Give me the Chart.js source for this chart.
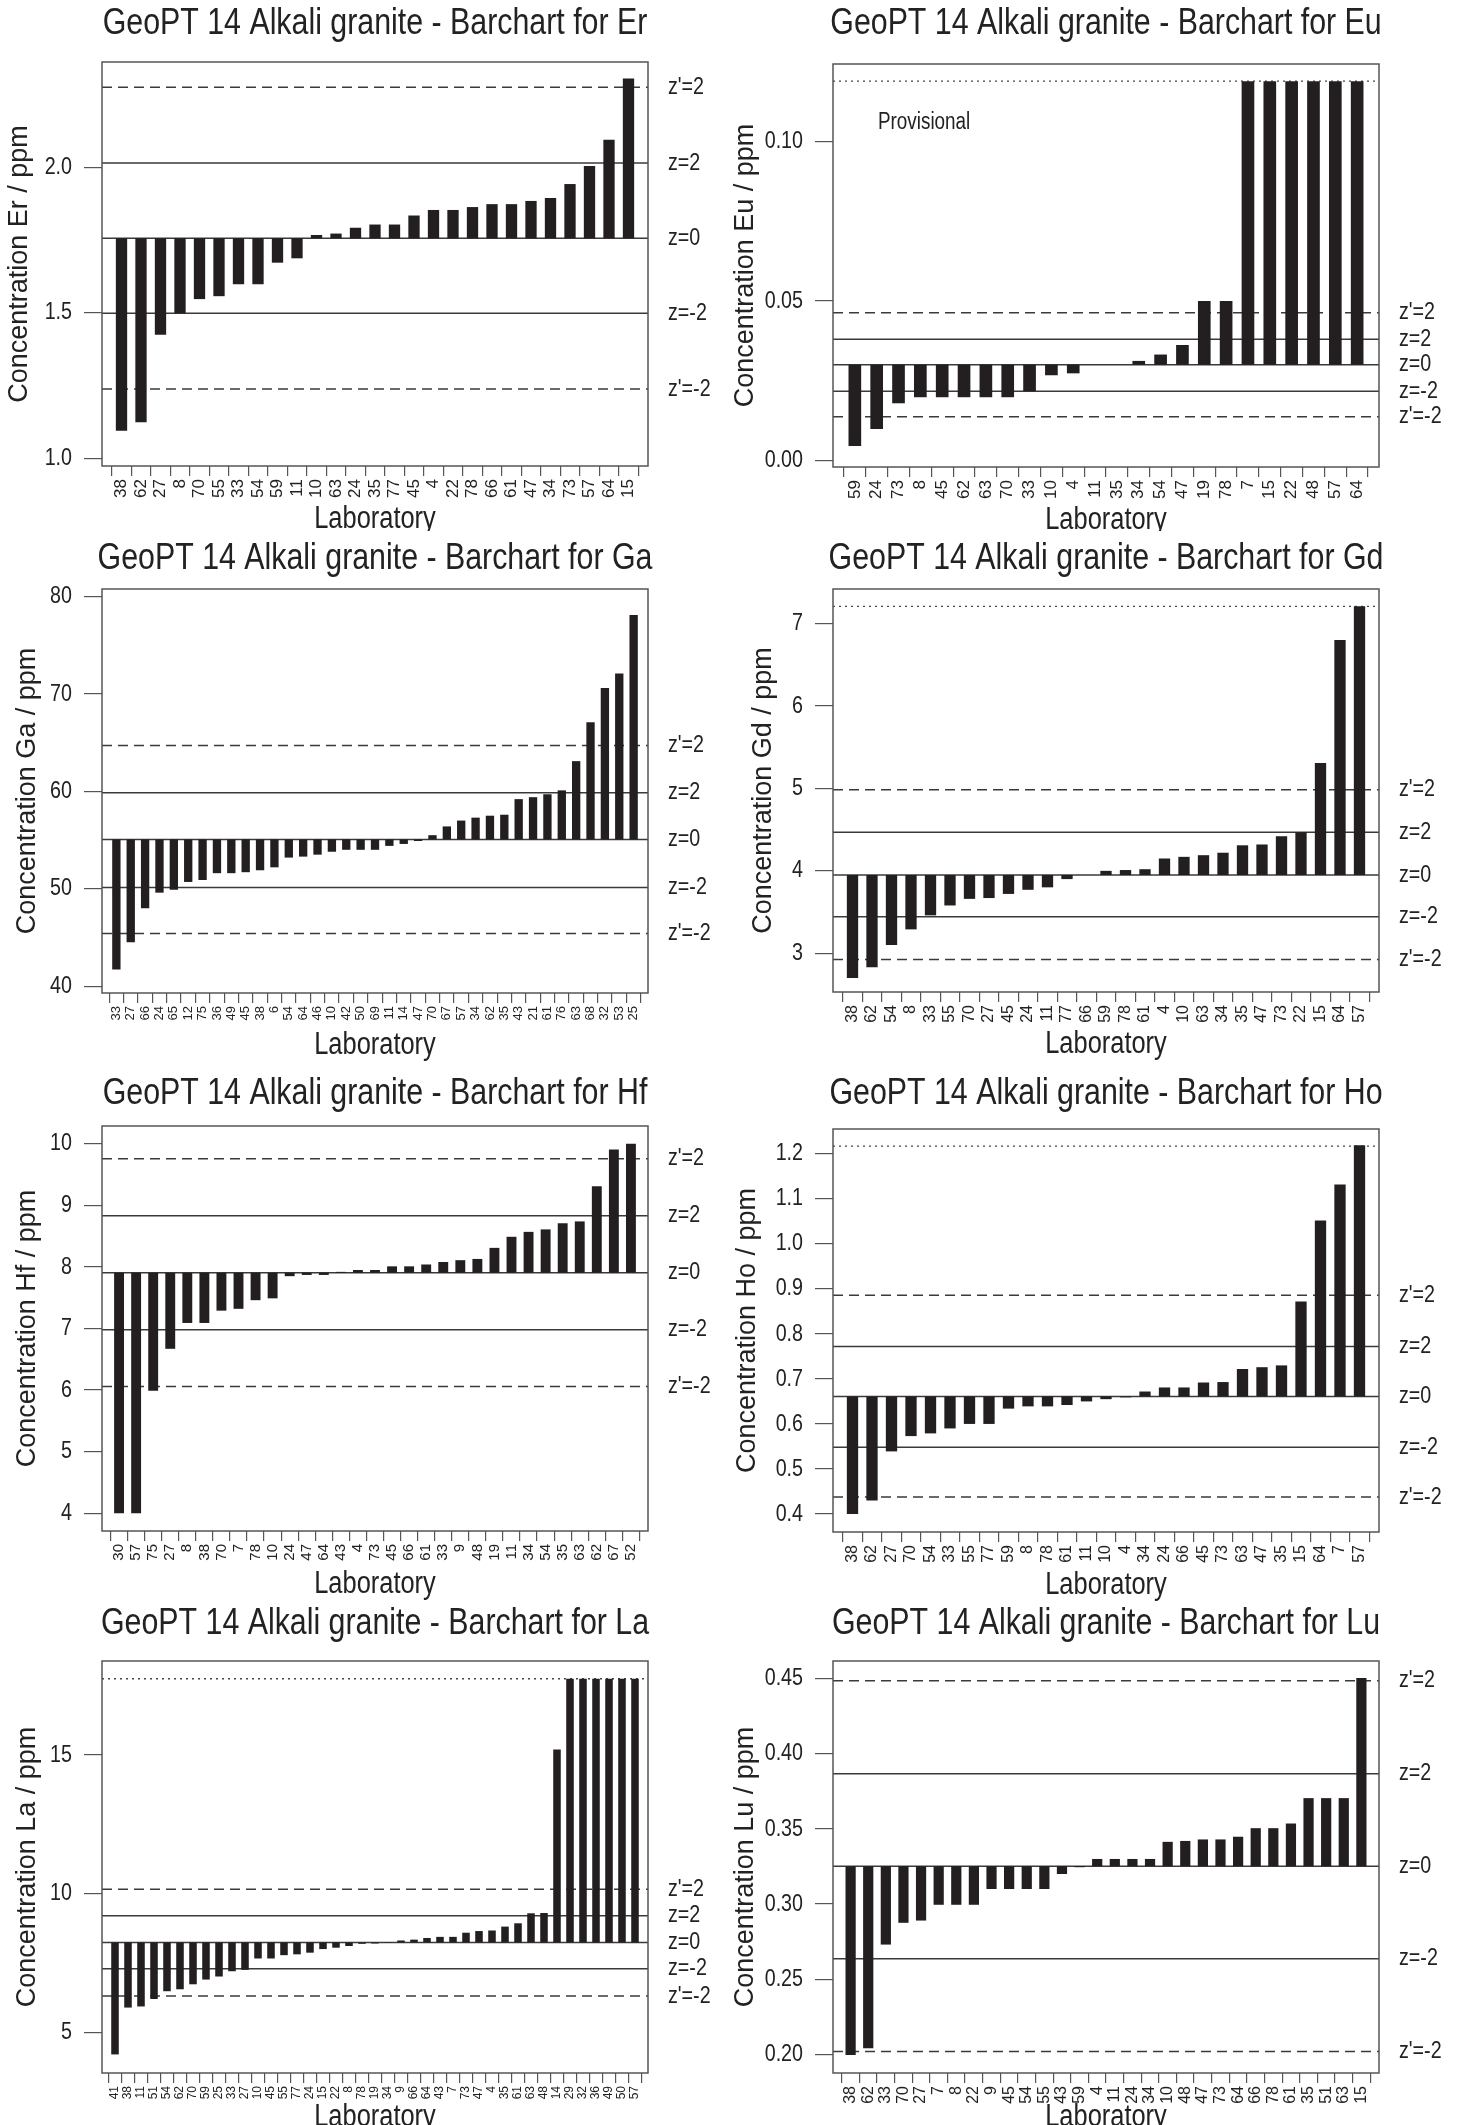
<!DOCTYPE html>
<html>
<head>
<meta charset="utf-8">
<script src="https://cdn.jsdelivr.net/npm/chart.js@4.4.1/dist/chart.umd.min.js"></script>
<style>
  body { margin: 0; background: #fff; width: 1463px; height: 2125px; position: relative; overflow: hidden; }
  canvas { position: absolute; }
</style>
</head>
<body>
<script>
// ===============================
// DATA
// ===============================
const erLabs = ["38","62","27","8","70","55","33","54","59","11","10","63","24","35","77","45","4","22","78","66","61","47","34","73","57","64","15"];
const erVals = [1.095,1.124,1.425,1.498,1.547,1.557,1.598,1.598,1.672,1.687,1.767,1.772,1.792,1.803,1.803,1.834,1.853,1.853,1.863,1.873,1.873,1.884,1.894,1.942,2.004,2.094,2.304];
const erTicks = [1.0, 1.5, 2.0];
const erLines = [1.238, 1.498, 1.756, 2.014, 2.274]; // z'=-2, z=-2, z=0, z=2, z'=2

const euLabs = ["59","24","73","8","45","62","63","70","33","10","4","11","35","34","54","47","19","78","7","15","22","48","57","64"];
const euVals = [0.0045,0.0098,0.0179,0.0198,0.0198,0.0198,0.0198,0.0198,0.0217,0.0267,0.0273,0.030,0.030,0.0312,0.0332,0.0362,0.050,0.050,0.119,0.119,0.119,0.119,0.119,0.119];
const euTicks = [0.00, 0.05, 0.10];
const euLines = [0.0137, 0.0217, 0.030, 0.038, 0.0463];
const euTop = 0.119;

const gaLabs = ["33","27","66","24","65","12","75","36","49","45","38","6","54","64","46","10","42","50","69","11","14","47","70","67","57","34","62","35","43","21","61","76","63","68","32","53","25"];
const gaVals = [41.7,44.5,48.0,49.6,49.9,50.7,50.9,51.6,51.6,51.7,51.9,52.2,53.2,53.3,53.5,53.8,54.0,54.0,54.0,54.4,54.6,54.9,55.5,56.4,57.0,57.3,57.5,57.6,59.2,59.4,59.7,60.1,63.1,67.1,70.6,72.1,78.1];
const gaTicks = [40, 50, 60, 70, 80];
const gaLines = [45.4, 50.14, 55.06, 59.86, 64.7];

const gdLabs = ["38","62","54","8","33","55","70","27","45","24","11","77","66","59","78","61","4","10","63","34","35","47","73","22","15","64","57"];
const gdVals = [2.70,2.83,3.10,3.29,3.46,3.58,3.66,3.67,3.72,3.77,3.80,3.90,3.95,4.00,4.01,4.02,4.15,4.17,4.19,4.22,4.31,4.32,4.42,4.47,5.31,6.80,7.21];
const gdTicks = [3, 4, 5, 6, 7];
const gdLines = [2.925, 3.442, 3.95, 4.467, 4.983];
const gdTop = 7.21;

const hfLabs = ["30","57","75","27","8","38","70","7","78","10","24","47","64","43","4","73","45","66","61","33","9","48","19","11","34","54","35","63","62","67","52"];
const hfVals = [4.0,4.0,5.99,6.67,7.09,7.09,7.29,7.32,7.46,7.49,7.85,7.87,7.87,7.92,7.95,7.95,8.01,8.01,8.04,8.08,8.11,8.13,8.31,8.49,8.57,8.61,8.71,8.74,9.31,9.91,10.0];
const hfTicks = [4, 5, 6, 7, 8, 9, 10];
const hfLines = [6.056, 6.978, 7.905, 8.833, 9.756];

const hoLabs = ["38","62","27","70","54","33","55","77","59","8","78","61","11","10","4","34","24","66","45","73","63","47","35","15","64","7","57"];
const hoVals = [0.400,0.430,0.539,0.573,0.579,0.590,0.600,0.600,0.634,0.639,0.639,0.642,0.650,0.655,0.659,0.672,0.681,0.681,0.692,0.693,0.722,0.726,0.730,0.872,1.052,1.132,1.219];
const hoTicks = [0.4, 0.5, 0.6, 0.7, 0.8, 0.9, 1.0, 1.1, 1.2];
const hoLines = [0.438, 0.548, 0.661, 0.772, 0.886];
const hoTop = 1.217;

const laLabs = ["41","38","11","51","54","62","70","59","25","33","27","10","45","55","77","24","15","22","8","78","19","34","9","66","64","43","7","73","47","4","35","61","63","48","14","29","32","36","49","50","57"];
const laVals = [4.20,5.89,5.93,6.20,6.48,6.55,6.73,6.90,7.01,7.20,7.25,7.66,7.66,7.78,7.81,7.87,8.00,8.05,8.11,8.19,8.20,8.23,8.31,8.34,8.40,8.44,8.44,8.59,8.65,8.67,8.81,8.93,9.29,9.30,15.2,17.75,17.75,17.75,17.75,17.75,17.75];
const laTicks = [5, 10, 15];
const laLines = [6.31, 7.29, 8.24, 9.20, 10.16];
const laTop = 17.75;

const luLabs = ["38","62","33","70","27","7","8","22","9","45","54","55","43","59","4","11","24","34","10","48","47","73","64","66","78","61","35","51","63","15"];
const luVals = [0.1995,0.204,0.273,0.2875,0.289,0.2995,0.2995,0.2995,0.310,0.310,0.310,0.310,0.320,0.3245,0.330,0.330,0.330,0.330,0.3414,0.342,0.343,0.343,0.3448,0.3505,0.3505,0.3536,0.3705,0.3705,0.3705,0.4505];
const luTicks = [0.20, 0.25, 0.30, 0.35, 0.40, 0.45];
const luLines = [0.2018, 0.2636, 0.3252, 0.3868, 0.4486];

const lineNames = ["z'=-2", "z=-2", "z=0", "z=2", "z'=2"];

// ===============================
// PANELS
// ===============================
const W = 731, H = 531;
const panels = [
  { el: "Er", labs: erLabs, vals: erVals, ticks: erTicks, lines: erLines, top: null, dec: 1, ymin: 0.974, ymax: 2.361, x: 0,   y: 0,    bt: 62, bb: 466, yt: 20, xf: 17, lab: 53 },
  { el: "Eu", labs: euLabs, vals: euVals, ticks: euTicks, lines: euLines, top: euTop, dec: 2, ymin: -0.0021, ymax: 0.1244, x: 731, y: 0, bt: 64, bb: 467, yt: 15, xf: 17, lab: 53, note: "Provisional" },
  { el: "Ga", labs: gaLabs, vals: gaVals, ticks: gaTicks, lines: gaLines, top: null, dec: 0, ymin: 39.3, ymax: 80.77, x: 0,   y: 535,  bt: 54, bb: 458, yt: 28, xf: 13, lab: 52 },
  { el: "Gd", labs: gdLabs, vals: gdVals, ticks: gdTicks, lines: gdLines, top: gdTop, dec: 0, ymin: 2.53, ymax: 7.42, x: 731, y: 535,  bt: 54, bb: 457, yt: 33, xf: 16, lab: 52 },
  { el: "Hf", labs: hfLabs, vals: hfVals, ticks: hfTicks, lines: hfLines, top: null, dec: 0, ymin: 3.71, ymax: 10.29, x: 0,   y: 1070, bt: 56, bb: 461, yt: 28, xf: 15, lab: 53 },
  { el: "Ho", labs: hoLabs, vals: hoVals, ticks: hoTicks, lines: hoLines, top: hoTop, dec: 1, ymin: 0.36, ymax: 1.255, x: 731, y: 1070, bt: 59, bb: 462, yt: 17, xf: 16, lab: 53 },
  { el: "La", labs: laLabs, vals: laVals, ticks: laTicks, lines: laLines, top: laTop, dec: 0, ymin: 3.53, ymax: 18.39, x: 0,   y: 1600, bt: 61, bb: 473, yt: 28, xf: 12, lab: 44 },
  { el: "Lu", labs: luLabs, vals: luVals, ticks: luTicks, lines: luLines, top: null, dec: 2, ymin: 0.1875, ymax: 0.4618, x: 731, y: 1600, bt: 61, bb: 473, yt: 15, xf: 16, lab: 44 }
];

const INK = "#231f20";
const SANS = "'Liberation Sans', Arial, sans-serif";

// draw text horizontally condensed (R output uses a narrow face)
function narrowText(ctx, txt, x, y, size, align) {
  ctx.save();
  ctx.font = size + "px " + SANS;
  ctx.textAlign = align;
  ctx.translate(x, y);
  ctx.scale(0.82, 1);
  ctx.fillText(txt, 0, 0);
  ctx.restore();
}

// ===============================
// DECORATION PLUGIN
// ===============================
const decor = {
  id: "decor",
  beforeDatasetsDraw(chart) {
    const p = chart.options.plugins.decor.panel;
    const { ctx, chartArea: a } = chart;
    const ys = chart.scales.y;
    ctx.save();
    p.lines.forEach((v, i) => {
      const py = ys.getPixelForValue(v);
      ctx.beginPath();
      ctx.strokeStyle = "#3a3a3a";
      ctx.lineWidth = 1.5;
      ctx.setLineDash(i === 0 || i === 4 ? [10, 6] : []);
      ctx.moveTo(a.left, py); ctx.lineTo(a.right, py);
      ctx.stroke();
    });
    if (p.top !== null) {
      const py = ys.getPixelForValue(p.top);
      ctx.beginPath();
      ctx.strokeStyle = "#444";
      ctx.lineWidth = 1.3;
      ctx.setLineDash([2, 4]);
      ctx.moveTo(a.left, py); ctx.lineTo(a.right, py);
      ctx.stroke();
    }
    ctx.restore();
  },
  afterDraw(chart) {
    const p = chart.options.plugins.decor.panel;
    const { ctx, chartArea: a } = chart;
    const ys = chart.scales.y;
    ctx.save();
    ctx.setLineDash([]);
    ctx.strokeStyle = "#555";
    ctx.lineWidth = 1.5;
    ctx.strokeRect(a.left, a.top, a.right - a.left, a.bottom - a.top);

    ctx.fillStyle = "#222";
    ctx.textBaseline = "middle";
    p.lines.forEach((v, i) => {
      narrowText(ctx, lineNames[i], a.right + 20, ys.getPixelForValue(v), 24, "left");
    });

    // y tick labels
    p.ticks.forEach(v => {
      narrowText(ctx, v.toFixed(p.dec), a.left - 30, ys.getPixelForValue(v), 24, "right");
    });

    narrowText(ctx, "GeoPT 14 Alkali granite - Barchart for " + p.el, (a.left + a.right) / 2, 24, 37, "center");
    narrowText(ctx, "Laboratory", (a.left + a.right) / 2, a.bottom + p.lab, 31, "center");

    if (p.note) narrowText(ctx, p.note, 147, 123, 23, "left");

    ctx.translate(p.yt, (a.top + a.bottom) / 2);
    ctx.rotate(-Math.PI / 2);
    ctx.textAlign = "center";
    ctx.font = "27px " + SANS;
    ctx.fillText("Concentration " + p.el + " / ppm", 0, 0);
    ctx.restore();
  }
};

// ===============================
// BUILD CHARTS
// ===============================
panels.forEach(p => {
  const cv = document.createElement("canvas");
  cv.width = W; cv.height = H;
  cv.style.left = p.x + "px";
  cv.style.top = p.y + "px";
  document.body.appendChild(cv);

  const base = p.lines[2];
  const n = p.labs.length;

  new Chart(cv.getContext("2d"), {
    type: "bar",
    data: {
      datasets: [{
        data: p.vals.map((v, i) => ({ x: i, y: [base, v] })),
        backgroundColor: INK,
        borderWidth: 0,
        barPercentage: 0.58,
        categoryPercentage: 1.0
      }]
    },
    options: {
      responsive: false,
      animation: false,
      devicePixelRatio: 1,
      layout: { padding: { left: 0, right: W - 648, top: p.bt, bottom: 0 } },
      plugins: { legend: { display: false }, tooltip: { enabled: false }, decor: { panel: p } },
      scales: {
        x: {
          type: "linear",
          min: -1, max: n,
          offset: false,
          afterBuildTicks: s => { s.ticks = p.labs.map((_, i) => ({ value: i })); },
          afterFit: s => { s.height = H - p.bb; },
          grid: { drawOnChartArea: false, drawTicks: true, tickLength: 10, color: "#555", lineWidth: 1.2 },
          border: { display: false },
          ticks: {
            autoSkip: false, minRotation: 90, maxRotation: 90, padding: 3,
            color: "#222", font: { family: SANS, size: p.xf },
            callback: v => p.labs[v]
          }
        },
        y: {
          min: p.ymin, max: p.ymax,
          afterBuildTicks: s => { s.ticks = p.ticks.map(v => ({ value: v })); },
          afterFit: s => { s.width = 102; },
          grid: { drawOnChartArea: false, drawTicks: true, tickLength: 18, color: "#555", lineWidth: 1.2 },
          border: { display: false },
          ticks: { color: "rgba(0,0,0,0)", font: { size: 10 }, callback: () => "" }
        }
      }
    },
    plugins: [decor]
  });
});
</script>
</body>
</html>
